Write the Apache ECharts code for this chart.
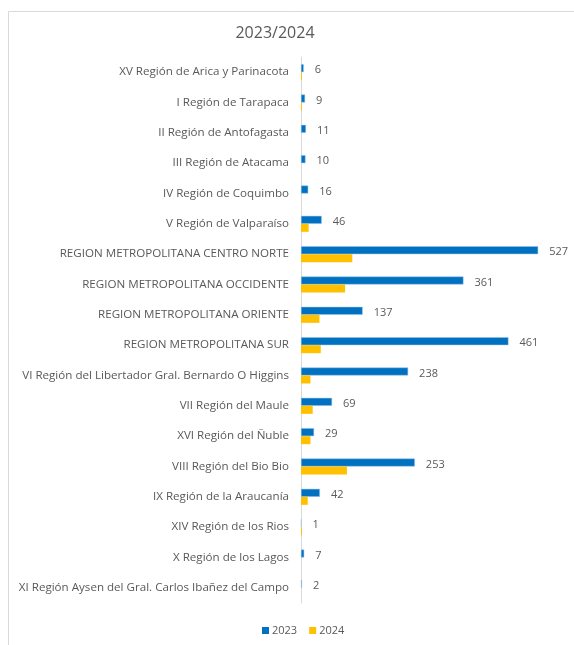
<!DOCTYPE html>
<html>
<head>
<meta charset="utf-8">
<script src="https://cdn.jsdelivr.net/npm/echarts@6/dist/echarts.min.js"></script>
<style>
  html, body { margin: 0; padding: 0; background: #fff; }
  #chart { width: 574px; height: 645px; }
</style>
</head>
<body>
<div id="chart"></div>
<script>
// regiones (de arriba hacia abajo)
const regions = [
  "XV Región de Arica y Parinacota",
  "I Región de Tarapaca",
  "II Región de Antofagasta",
  "III Región de Atacama",
  "IV Región de Coquimbo",
  "V Región de Valparaíso",
  "REGION METROPOLITANA CENTRO NORTE",
  "REGION METROPOLITANA OCCIDENTE",
  "REGION METROPOLITANA ORIENTE",
  "REGION METROPOLITANA SUR",
  "VI Región del Libertador Gral. Bernardo O Higgins",
  "VII Región del Maule",
  "XVI Región del Ñuble",
  "VIII Región del Bio Bio",
  "IX Región de la Araucanía",
  "XIV Región de los Rios",
  "X Región de los Lagos",
  "XI Región Aysen del Gral. Carlos Ibañez del Campo",
];

const values2023 = [6, 9, 11, 10, 16, 46, 527, 361, 137, 461, 238, 69, 29, 253, 42, 1, 7, 2];
// 2024 sin etiquetas, estimado del largo de barra
const values2024 = [2, 2, 0, 0, 0, 17, 114, 98, 41, 44, 21, 26, 21, 102, 15, 2, 0, 0];

const axisMax = 600;

const chart = echarts.init(document.getElementById("chart"));

const option = {
  animation: false,
  textStyle: { fontFamily: "Open Sans" },
  graphic: [
    {
      type: "rect",
      shape: { x: 8.5, y: 11.5, width: 700, height: 700 },
      style: { fill: "none", stroke: "#d9d9d9", lineWidth: 1 },
      silent: true,
    },
  ],
  title: {
    text: "2023/2024",
    left: 270,
    textAlign: "center",
    top: 20,
    textStyle: { fontSize: 16, fontWeight: "normal", color: "#595959" },
  },
  legend: {
    data: ["2023", "2024"],
    bottom: 4,
    left: 257,
    itemWidth: 7,
    itemHeight: 7,
    itemGap: 12,
    icon: "rect",
    itemStyle: { borderWidth: 0 },
    textStyle: { fontSize: 11, color: "#595959", padding: [0, 0, 0, -2] },
  },
  grid: {
    left: 301,
    right: 3,
    top: 57,
    bottom: 42,
  },
  xAxis: {
    type: "value",
    min: 0,
    max: axisMax,
    show: false,
  },
  yAxis: {
    type: "category",
    data: regions,
    inverse: true,
    axisLine: { lineStyle: { color: "#d9d9d9", width: 1 } },
    axisTick: { show: false },
    axisLabel: { fontSize: 11.6, color: "#595959", margin: 12 },
  },
  series: [
    {
      name: "2023",
      type: "bar",
      data: values2023,
      barWidth: 8,
      barGap: "0%",
      itemStyle: { color: "#0070C0", borderColor: "#9dc3e6", borderWidth: 0.5 },
      label: {
        show: true,
        position: "right",
        distance: 11,
        fontSize: 11,
        color: "#595959",
        offset: [0, 2],
      },
    },
    {
      name: "2024",
      type: "bar",
      data: values2024,
      barWidth: 8,
      barGap: "0%",
      itemStyle: { color: "#FFC000" },
    },
  ],
};

chart.setOption(option);
</script>
</body>
</html>
